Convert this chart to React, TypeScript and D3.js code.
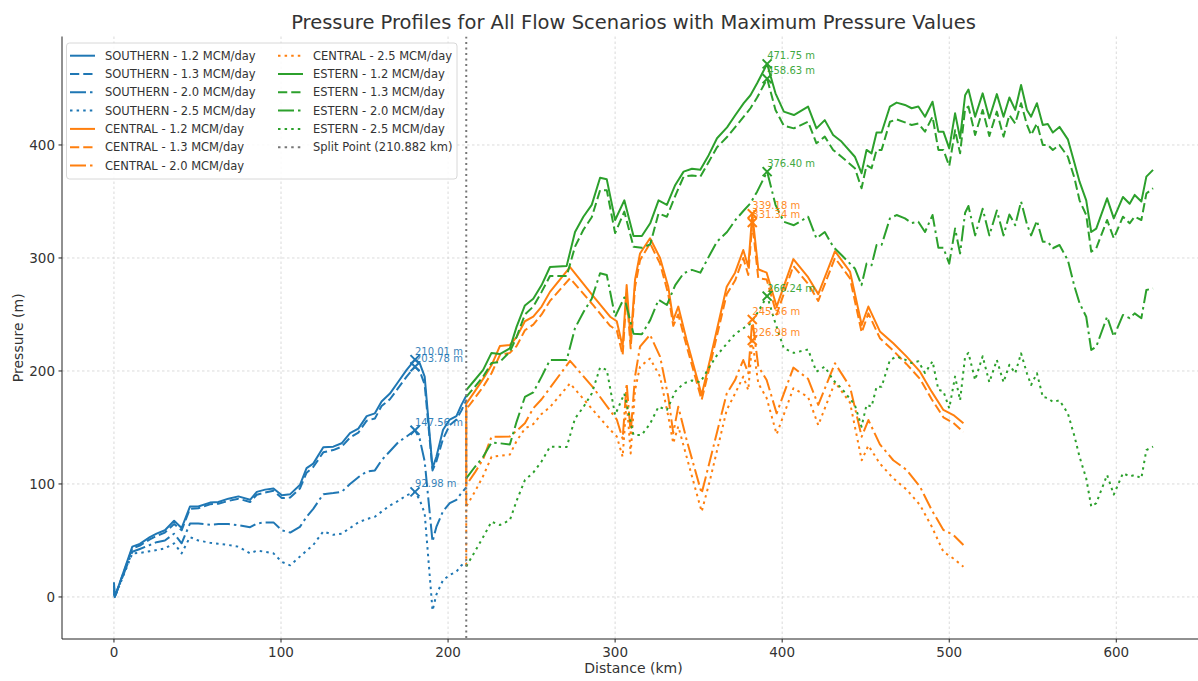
import React from "react";
import * as d3 from "d3";

// ---- data ----
const xTicks = [0, 100, 200, 300, 400, 500, 600];
const yTicks = [0, 100, 200, 300, 400];
const splitKm = 210.882;

const southDist = [0, 0.5, 11, 15.5, 21.5, 25.5, 30.5, 36, 40.5, 45.5, 50.5, 57.5, 62.5, 68.5, 74.5, 81.5, 85.5, 90.5, 95.5, 100.5, 105.5, 111.3, 115.3, 119.3, 125.3, 131.3, 136.3, 141.3, 146.3, 151.3, 156.2, 160.2, 165.2, 170.2, 175.2, 180.2, 183, 186, 190.7, 193, 197, 201, 205, 208, 210.88];
const south12 = [13, 0, 44.5, 47, 53, 56, 59, 67.5, 61, 80, 80, 83.5, 84, 87, 89, 86, 93, 95, 96, 90, 91, 99, 114, 118, 132.5, 133, 136, 145, 149, 160, 162.5, 173, 180, 190.5, 201, 210.01, 207, 195, 114, 124, 148, 157, 160, 170, 178];
const south13 = [10, 0, 43, 45.5, 51, 54, 57, 64.5, 59, 78, 78.5, 82, 82.5, 85, 87, 84, 90.5, 92.5, 94, 87.5, 88, 96, 110, 115, 128, 130, 133, 141, 145.5, 156, 158, 169, 175, 185, 195, 203.78, 200, 188, 112, 120, 140, 152, 157, 165, 174];
const south20 = [6, 0, 40, 42.5, 46, 48.5, 50, 56, 47.5, 65, 65, 64, 64.5, 64.5, 63.5, 61.7, 65, 66, 66, 59, 57, 62, 71, 78, 91, 92, 93, 100, 106, 111, 112, 121, 129, 137, 142, 147.56, 140, 120, 49, 62, 76, 83, 86, 92, 97];
const south25 = [3, 0, 38.5, 39, 40.5, 41.5, 43, 47.5, 38.6, 53, 50, 48, 47, 46, 44.5, 38.6, 41, 40, 38.6, 31, 28, 35.7, 41, 46, 58, 55, 56, 61, 66, 69, 71, 75.5, 81, 85, 90, 92.98, 86, 74, -12, 2, 15, 19.5, 22.4, 28, 31];

const centralDist = [210.88, 210.88, 216, 221, 226, 231, 237, 241, 246, 251, 256, 261, 273, 287, 297, 301, 304.5, 306.9, 309.3, 311.9, 314.9, 320.9, 326.9, 331.8, 334.8, 337.8, 342.8, 351.8, 356.8, 366.8, 371.8, 376.7, 379.7, 382.1, 385.7, 390.7, 396.7, 406.7, 415.5, 421.6, 431.6, 440.6, 447.6, 451.6, 458.5, 466.5, 474.5, 482.5, 489.5, 496.5, 502.5, 508.5];
const central12 = [100, 171, 182, 193, 205, 222, 223, 230, 244, 248, 257, 270, 292, 266, 248, 244, 221.5, 276, 227, 280.5, 304, 317.4, 300, 274.6, 245, 257, 227.4, 178.8, 210, 274.6, 287, 307, 292.3, 339.18, 290, 287, 257, 299, 283, 268, 306, 288, 240.7, 257, 235, 224.5, 212.7, 199.4, 181.7, 165.5, 161, 153.7];
const central13 = [98, 166, 176, 186, 198, 214, 216, 222, 236, 241, 250, 262, 282, 258, 240, 236, 214, 268, 220, 274, 298, 313, 295, 268, 240, 250, 222, 174.4, 205, 268, 280, 300, 285, 331.34, 282, 281, 250, 293, 277, 262, 300, 282, 234, 251, 229, 218, 206, 193, 175, 159, 154, 146];
const central20 = [80, 99, 110, 122, 141.8, 141.8, 142, 147, 153.7, 167, 175, 185, 209, 185, 165, 157, 140, 189, 145, 195, 221.5, 232, 212.7, 177.3, 144.8, 168.4, 139, 91.7, 121, 180, 192, 209.7, 198, 245.56, 204, 192, 162.5, 203, 193, 170, 206.8, 186, 141.8, 156.6, 135, 121, 112.4, 97.6, 77, 59.3, 54.9, 46];
const central25 = [28, 80, 93, 107, 124, 125, 126, 138, 149, 153, 162, 168, 189, 165, 148, 142, 124, 174, 127, 183, 203.8, 211, 195, 160, 136, 151, 124, 75.5, 103.5, 165.5, 180, 195, 183, 226.98, 189, 176, 144, 184.7, 177, 152, 190, 172, 121, 134, 118, 105, 95, 81.4, 62.3, 40, 34, 26.8];

const eastDist = [210.88, 216, 221, 226, 231, 237, 241, 246, 251, 256, 261, 271, 276, 281, 286, 291, 295, 300, 305.5, 311, 316, 321, 326, 331, 336, 341, 346, 351, 356, 361, 367, 372, 377, 381, 385, 391, 396, 401, 407, 415.5, 420.5, 425.5, 430.5, 435.5, 443.5, 447.5, 450.5, 453.5, 456.5, 459.5, 464.5, 468.5, 473.5, 477.5, 481.5, 485.5, 490, 493.5, 496.5, 500, 503.5, 506.5, 509.5, 511.5, 515.5, 520, 524, 528.5, 532.5, 536, 539.5, 543, 546.5, 549, 552.5, 556, 559, 562, 566, 571, 575, 578, 582, 585, 588, 594.5, 598.5, 604, 608, 611, 615, 618, 622];
const east12 = [183, 192, 201, 216, 215, 220, 239, 258, 264, 276, 292, 293, 323, 336.5, 347, 371, 369.6, 333.6, 351, 319.5, 319.5, 330.7, 351, 347, 364.6, 376.4, 379, 378, 391, 406, 415.6, 426.5, 437, 444, 454.6, 471.75, 445.7, 429.5, 426.5, 434, 414.7, 422, 408.8, 403, 389.6, 375, 395.6, 392.6, 411, 411, 434, 437.5, 435.4, 432.5, 434, 425, 438.3, 411.8, 411.8, 397, 428, 406, 444, 449, 425, 445.7, 423.6, 445, 425, 442, 431, 453, 431, 425, 437, 417.7, 418.6, 411, 416, 405, 383.8, 367.5, 351, 323, 326, 352.8, 335, 354, 348, 355.8, 350, 372, 378];
const east13 = [177, 186, 195, 207, 208, 217, 230, 250, 257, 270, 284, 284, 310, 325, 336, 360, 360, 322, 341, 310, 309, 312, 339.5, 336.5, 355, 372, 373, 372, 385, 398, 407, 416, 425, 432.5, 442, 458.63, 431, 417, 414.7, 420.6, 401.5, 407.4, 395.6, 389.6, 379.5, 361.7, 382, 379.5, 395.6, 395.6, 420.6, 422.6, 420, 417.7, 419, 411.8, 425, 395.6, 395.6, 381.4, 413, 392.6, 432, 434, 408.8, 431, 408, 429.5, 407.4, 426.5, 419, 437, 418, 408.8, 419, 400, 400, 395.6, 400, 389.6, 370.5, 351, 338, 305.6, 308.6, 333.6, 317.4, 336.5, 330.7, 336.5, 333.6, 357, 361.7];
const east20 = [105, 115, 124, 136.6, 136, 135, 155, 177, 181, 195, 209.7, 209.7, 238, 252, 264, 286.5, 285, 248, 265, 233, 232.5, 245, 263, 258.4, 276, 286.5, 289.5, 287, 301, 314.4, 323, 333.6, 342, 348.4, 358.7, 376.4, 347, 332, 329, 336.5, 317.4, 323, 310, 302.6, 290.7, 276, 295, 293.5, 311.5, 311.5, 335, 338, 335, 331, 332, 323, 338, 309, 309, 295, 326, 304, 340, 346, 320, 343.6, 320, 342, 320, 338.5, 329, 350, 330, 320, 333, 314.4, 314.4, 308.6, 311.5, 298, 274.6, 260, 248, 218.6, 221.5, 248, 230.4, 249.6, 246.7, 251, 246.7, 271.7, 273];
const east25 = [27, 40, 53, 66.6, 63.7, 68, 85, 103.5, 110, 120, 133, 132.7, 158, 168, 180, 203, 201, 161, 180, 143.4, 143.4, 153.6, 168.4, 165.5, 181.7, 189, 191.6, 190, 202.5, 214, 224.4, 233, 238, 242, 251, 266.24, 242, 220, 216, 219, 199.4, 203.8, 192, 184.7, 170, 150.7, 170, 168.4, 186, 186, 209.7, 212.7, 210, 207, 208.6, 198.2, 208.6, 183.3, 182, 167, 195, 174, 212.7, 216, 192, 213, 190, 209.7, 190, 205.5, 198, 215.6, 198, 187.6, 198, 177, 176, 172.6, 174, 162.5, 142, 124, 105, 80, 83, 108, 90.6, 109.6, 106.7, 108, 105, 130, 133];

// ---- styling ----
const BLUE = "#1f77b4";
const ORANGE = "#ff7f0e";
const GREEN = "#2ca02c";
const DASH: Record<string, string | undefined> = {
  solid: undefined,
  dashed: "9.25,4",
  dashdot: "16,4,2.5,4",
  dotted: "2.5,4.1",
};

const series = [
  { label: "SOUTHERN - 1.2 MCM/day", dist: southDist, vals: south12, color: BLUE, style: "solid" },
  { label: "SOUTHERN - 1.3 MCM/day", dist: southDist, vals: south13, color: BLUE, style: "dashed" },
  { label: "SOUTHERN - 2.0 MCM/day", dist: southDist, vals: south20, color: BLUE, style: "dashdot" },
  { label: "SOUTHERN - 2.5 MCM/day", dist: southDist, vals: south25, color: BLUE, style: "dotted" },
  { label: "CENTRAL - 1.2 MCM/day", dist: centralDist, vals: central12, color: ORANGE, style: "solid" },
  { label: "CENTRAL - 1.3 MCM/day", dist: centralDist, vals: central13, color: ORANGE, style: "dashed" },
  { label: "CENTRAL - 2.0 MCM/day", dist: centralDist, vals: central20, color: ORANGE, style: "dashdot" },
  { label: "CENTRAL - 2.5 MCM/day", dist: centralDist, vals: central25, color: ORANGE, style: "dotted" },
  { label: "ESTERN - 1.2 MCM/day", dist: eastDist, vals: east12, color: GREEN, style: "solid" },
  { label: "ESTERN - 1.3 MCM/day", dist: eastDist, vals: east13, color: GREEN, style: "dashed" },
  { label: "ESTERN - 2.0 MCM/day", dist: eastDist, vals: east20, color: GREEN, style: "dashdot" },
  { label: "ESTERN - 2.5 MCM/day", dist: eastDist, vals: east25, color: GREEN, style: "dotted" },
];

const W = 1198;
const H = 681;
const left = 62, top = 36.5, right = 1205, bottom = 639;
const FONT = "DejaVu Sans, Verdana, sans-serif";

const App = () => {
  const x = d3.scaleLinear().domain([-31.1, 653.1]).range([left, right]);
  const y = d3.scaleLinear().domain([-37.2, 496]).range([bottom, top]);

  const line = d3
    .line<[number, number]>()
    .x((d) => x(d[0]))
    .y((d) => y(d[1]));

  // legend: 2 columns, 7 rows
  const legendItems = [
    ...series.map((s) => ({ label: s.label, color: s.color, style: s.style })),
    { label: `Split Point (${splitKm} km)`, color: "#777", style: "dotted" },
  ];
  const rowH = 18.3;

  return (
    <svg
      width={W}
      height={H}
      style={{ position: "absolute", left: 0, top: 0, background: "#fff" }}
      fontFamily={FONT}
    >
      <defs>
        <clipPath id="plot">
          <rect x={left} y={top} width={right - left} height={bottom - top} />
        </clipPath>
      </defs>

      {/* grid */}
      <g stroke="#d0d0d0" strokeWidth={0.8} strokeDasharray="2.5,2.5">
        {xTicks.map((t) => (
          <line key={"gx" + t} x1={x(t)} x2={x(t)} y1={top} y2={bottom} />
        ))}
        {yTicks.map((t) => (
          <line key={"gy" + t} x1={left} x2={right} y1={y(t)} y2={y(t)} />
        ))}
      </g>

      {/* series */}
      <g clipPath="url(#plot)" fill="none">
        {series.map((s) => (
          <path
            key={s.label}
            d={line(s.dist.map((d, i) => [d, s.vals[i]]) as [number, number][]) || ""}
            stroke={s.color}
            strokeWidth={2}
            strokeDasharray={DASH[s.style]}
            strokeLinejoin="round"
          />
        ))}
        <line
          x1={x(splitKm)}
          x2={x(splitKm)}
          y1={top}
          y2={bottom}
          stroke="#777"
          strokeWidth={2}
          strokeDasharray="2,3.5"
        />
      </g>

      {/* max markers + labels */}
      {series.map((s) => {
        const i = d3.maxIndex(s.vals);
        const px = x(s.dist[i]);
        const py = y(s.vals[i]);
        const r = 4.5;
        return (
          <g key={"m" + s.label}>
            <path
              d={`M${px - r},${py - r}L${px + r},${py + r}M${px - r},${py + r}L${px + r},${py - r}`}
              stroke={s.color}
              strokeWidth={2}
            />
            <text x={px} y={py - 4.5} fontSize={10} fill={s.color} opacity={0.9}>
              {s.vals[i].toFixed(2)} m
            </text>
          </g>
        );
      })}

      {/* axes */}
      <g stroke="#222" strokeWidth={1}>
        <line x1={left} x2={left} y1={top} y2={bottom} />
        <line x1={left} x2={right} y1={bottom} y2={bottom} />
        {xTicks.map((t) => (
          <line key={"tx" + t} x1={x(t)} x2={x(t)} y1={bottom} y2={bottom + 3.5} />
        ))}
        {yTicks.map((t) => (
          <line key={"ty" + t} x1={left - 3.5} x2={left} y1={y(t)} y2={y(t)} />
        ))}
      </g>
      <g fill="#333" fontSize={13.5}>
        {xTicks.map((t) => (
          <text key={"lx" + t} x={x(t)} y={bottom + 18} textAnchor="middle">
            {t}
          </text>
        ))}
        {yTicks.map((t) => (
          <text key={"ly" + t} x={left - 7} y={y(t) + 5} textAnchor="end">
            {t}
          </text>
        ))}
      </g>
      <text x={(left + right) / 2} y={673} textAnchor="middle" fontSize={14} fill="#333">
        Distance (km)
      </text>
      <text
        transform={`translate(23,${(top + bottom) / 2}) rotate(-90)`}
        textAnchor="middle"
        fontSize={14}
        fill="#333"
      >
        Pressure (m)
      </text>
      <text x={(left + right) / 2} y={29} textAnchor="middle" fontSize={19.5} fill="#333">
        Pressure Profiles for All Flow Scenarios with Maximum Pressure Values
      </text>

      {/* legend */}
      <g>
        <rect
          x={66.5}
          y={43}
          width={390.5}
          height={136}
          rx={3}
          fill="#fff"
          fillOpacity={0.85}
          stroke="#d8d8d8"
        />
        {legendItems.map((it, k) => {
          const col = k < 7 ? 0 : 1;
          const row = k < 7 ? k : k - 7;
          const hx = col === 0 ? 70 : 278;
          const cy = 55.7 + row * rowH;
          return (
            <g key={"lg" + k}>
              <line
                x1={hx}
                x2={hx + 25}
                y1={cy}
                y2={cy}
                stroke={it.color}
                strokeWidth={2}
                strokeDasharray={DASH[it.style]}
              />
              <text x={hx + 35} y={cy + 4} fontSize={11.5} fill="#333">
                {it.label}
              </text>
            </g>
          );
        })}
      </g>
    </svg>
  );
};

export default App;
